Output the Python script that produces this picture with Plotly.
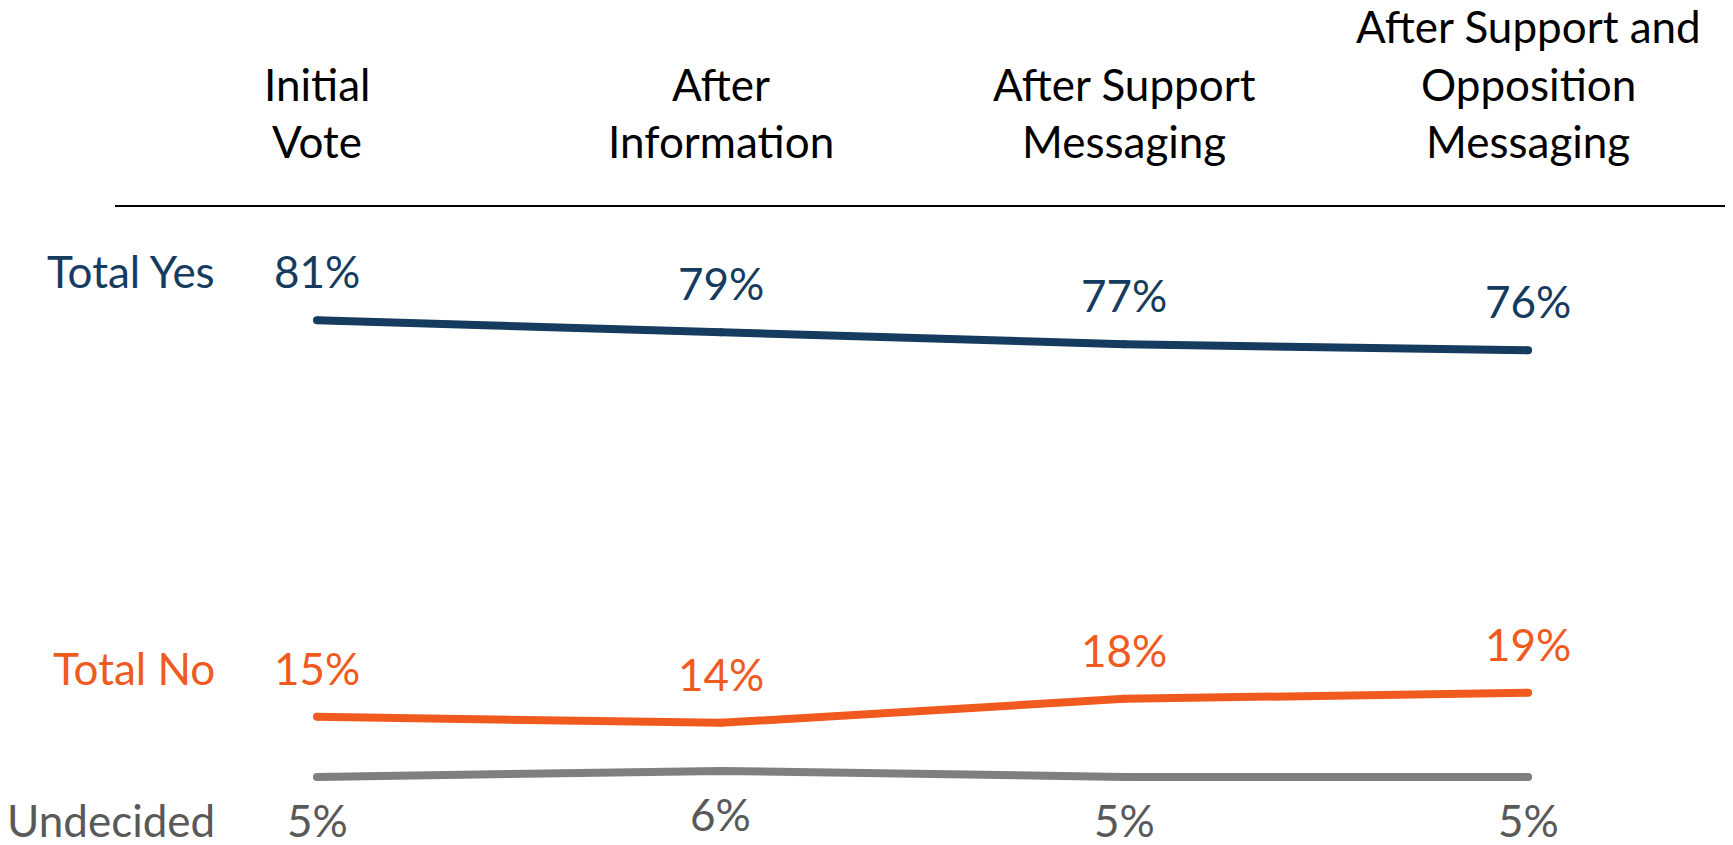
import plotly.graph_objects as go

stages = [["Initial", "Vote"], ["After", "Information"], ["After Support", "Messaging"],
          ["After Support and", "Opposition", "Messaging"]]
total_yes = [81, 79, 77, 76]
total_no = [15, 14, 18, 19]
undecided = [5, 6, 5, 5]

series = [
    ("Total Yes", total_yes, "#153B5E", "#153B5E", 49),
    ("Total No", total_no, "#F05A1E", "#F05A1E", 49),
    ("Undecided", undecided, "#7F7F7F", "#595959", -43),
]

FONT = "Lato"
SIZE = 44
# the page body has an 8px margin, so the figure is 16px smaller than the window
W, H = 1717, 829
xs = list(range(len(stages)))

fig = go.Figure()
annotations = []
for name, vals, line_col, text_col, shift in series:
    fig.add_trace(go.Scatter(
        x=xs, y=vals, mode="lines+markers",
        line=dict(color=line_col, width=8),
        marker=dict(color=line_col, size=8),
        hoverinfo="skip", showlegend=False))
    for x, v in zip(xs, vals):
        annotations.append(dict(x=x, y=v, text=f"{v}%", showarrow=False,
                                yshift=shift, yanchor="middle",
                                font=dict(size=SIZE, color=text_col, family=FONT)))
    annotations.append(dict(xref="paper", x=209 / W, xanchor="right",
                            y=vals[0], yshift=shift, yanchor="middle",
                            text=name, showarrow=False,
                            font=dict(size=SIZE, color=text_col, family=FONT)))

# header lines, bottom-aligned just above the rule
for x, lines in zip(xs, stages):
    n = len(lines)
    for i, line in enumerate(lines):
        annotations.append(dict(x=x, y=100, yshift=65 + 57.5 * (n - 1 - i),
                                yanchor="middle", text=line, showarrow=False,
                                font=dict(size=SIZE, color="#000000", family=FONT)))

fig.update_layout(
    width=W, height=H,
    margin=dict(l=0, r=0, t=0, b=0),
    paper_bgcolor="white", plot_bgcolor="white",
    xaxis=dict(range=[-309 / 403.7, (W - 309) / 403.7], visible=False),
    yaxis=dict(range=[-30 / 6.01, 100 + 198 / 6.01], visible=False),
    annotations=annotations,
    shapes=[dict(type="line", xref="paper", yref="y", x0=107 / W, x1=1.0,
                 y0=100, y1=100, line=dict(color="#000000", width=2))],
)

fig.write_html("out.html")
